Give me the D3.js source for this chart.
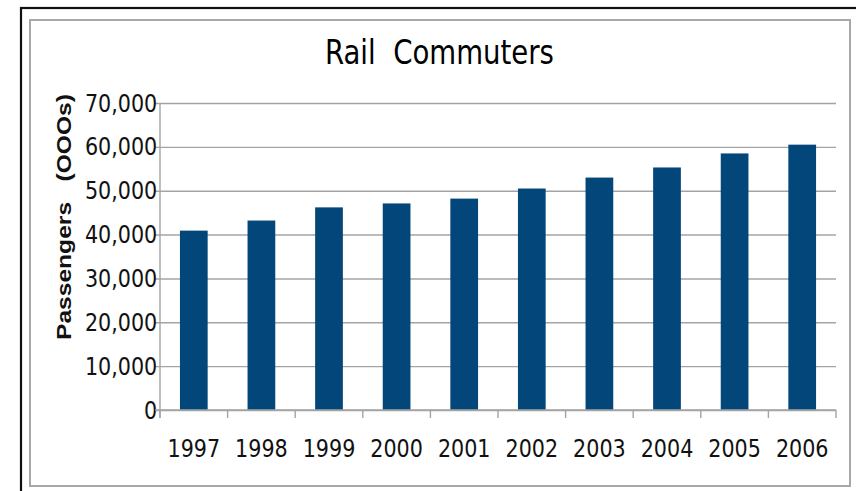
<!DOCTYPE html>
<html>
<head>
<meta charset="utf-8">
<script src="https://cdn.jsdelivr.net/npm/d3@7"></script>
<style>
  body { margin: 0; background: #fff; }
  svg { display: block; }
</style>
</head>
<body>
<div id="chart"></div>
<script>
// data
const years = ["1997", "1998", "1999", "2000", "2001", "2002", "2003", "2004", "2005", "2006"];
const passengers = [40900, 43200, 46200, 47100, 48200, 50500, 53000, 55300, 58500, 60500];
const yTicks = [0, 10000, 20000, 30000, 40000, 50000, 60000, 70000];

const width = 856, height = 491;
const plotLeft = 160, plotRight = 836, plotTop = 103, plotBottom = 410;
const labelFont = "'DejaVu Sans Condensed', 'DejaVu Sans', sans-serif";

const svg = d3.select("#chart").append("svg")
  .attr("width", width)
  .attr("height", height);

// outer black frame (runs off the right / bottom)
svg.append("rect")
  .attr("x", 21).attr("y", 8)
  .attr("width", 900).attr("height", 600)
  .style("fill", "none")
  .style("stroke", "#111")
  .style("stroke-width", 2.2);

// inner grey frame
svg.append("rect")
  .attr("x", 30).attr("y", 20)
  .attr("width", 820).attr("height", 466)
  .style("fill", "none")
  .style("stroke", "#a8a8a8")
  .style("stroke-width", 2);

const x = d3.scaleBand()
  .domain(years)
  .range([plotLeft, plotRight])
  .paddingInner(0.59)
  .paddingOuter(0.295);

const xBounds = d3.scaleBand().domain(years).range([plotLeft, plotRight]);

const y = d3.scaleLinear()
  .domain([0, 70000])
  .range([plotBottom, plotTop]);

// gridlines + y ticks
const yAxis = d3.axisLeft(y)
  .tickValues(yTicks)
  .tickSize(-(plotRight - plotLeft))
  .tickFormat(d3.format(","))
  .tickPadding(4);

const yg = svg.append("g")
  .attr("transform", `translate(${plotLeft},0)`)
  .call(yAxis);
yg.select(".domain").remove();
yg.selectAll(".tick line")
  .attr("x1", -5)
  .style("stroke", "#a4a4a4")
  .style("stroke-width", 1.4);
yg.selectAll(".tick text")
  .attr("x", -3)
  .attr("transform", "scale(0.92,1)")
  .style("font-family", labelFont)
  .style("font-size", "25px")
  .style("fill", "#111");

// y axis line
svg.append("line")
  .attr("x1", plotLeft).attr("x2", plotLeft)
  .attr("y1", plotTop).attr("y2", plotBottom + 8)
  .style("stroke", "#a4a4a4")
  .style("stroke-width", 1.4);

// bars
svg.append("g")
  .selectAll("rect")
  .data(passengers)
  .enter().append("rect")
  .attr("x", (d, i) => x(years[i]))
  .attr("width", x.bandwidth())
  .attr("y", d => y(d))
  .attr("height", d => y(0) - y(d))
  .style("fill", "#03467a");

// x axis line + ticks at category boundaries
const xg = svg.append("g");
xg.append("line")
  .attr("x1", plotLeft - 5).attr("x2", plotRight)
  .attr("y1", plotBottom).attr("y2", plotBottom)
  .style("stroke", "#a4a4a4")
  .style("stroke-width", 1.4);
xg.selectAll("line.tk")
  .data(years.concat(["end"]))
  .enter().append("line")
  .attr("class", "tk")
  .attr("x1", (d, i) => i < years.length ? xBounds(d) : plotRight)
  .attr("x2", (d, i) => i < years.length ? xBounds(d) : plotRight)
  .attr("y1", plotBottom).attr("y2", plotBottom + 8)
  .style("stroke", "#a4a4a4")
  .style("stroke-width", 1.4);

xg.selectAll("text")
  .data(years)
  .enter().append("text")
  .attr("transform", d => `translate(${xBounds(d) + xBounds.bandwidth() / 2},457) scale(0.92,1)`)
  .attr("text-anchor", "middle")
  .style("font-family", labelFont)
  .style("font-size", "25px")
  .style("fill", "#111")
  .text(d => d);

// title
svg.append("text")
  .attr("x", 325)
  .attr("y", 64)
  .attr("textLength", 229)
  .attr("lengthAdjust", "spacingAndGlyphs")
  .style("font-family", labelFont)
  .style("font-size", "33px")
  .style("fill", "#000")
  .style("white-space", "pre")
  .text("Rail  Commuters");

// y axis title
svg.append("text")
  .attr("transform", "translate(71,340) rotate(-90)")
  .attr("textLength", 246)
  .attr("lengthAdjust", "spacingAndGlyphs")
  .style("font-family", "'Liberation Sans', Arial, sans-serif")
  .style("font-weight", "bold")
  .style("font-size", "21px")
  .style("fill", "#111")
  .style("white-space", "pre")
  .text("Passengers   (OOOs)");
</script>
</body>
</html>
